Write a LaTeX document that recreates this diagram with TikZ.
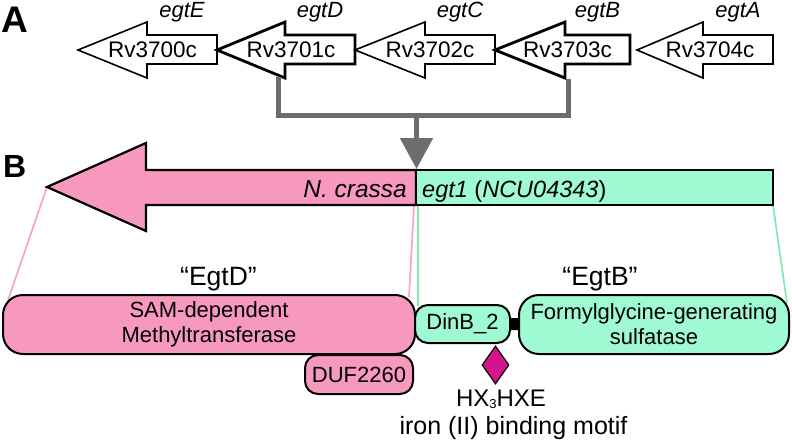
\documentclass[tikz,border=0pt]{standalone}
\usepackage{fontspec}
\setmainfont{Liberation Sans}
\usepackage{tikz}
\usetikzlibrary{shapes,shapes.geometric,arrows.meta,positioning}

\begin{document}
\begin{tikzpicture}[x=1pt, y=-1pt,
    every node/.style={inner sep=0pt},
    genename/.style={anchor=base, font=\fontsize{22.5}{26}\selectfont},
    genelabel/.style={anchor=base, font=\fontsize{22}{26}\selectfont\itshape},
    bracket/.style={draw=linkgray, line width=5pt},
    protbox/.style={draw, line width=2pt, rounded corners=#1, align=center,
                    font=\fontsize{22}{25}\selectfont},
    thinpink/.style={draw=linkpink, line width=1.7pt},
    thingreen/.style={draw=linkgreen, line width=1.7pt}]
    \definecolor{egtpink}{HTML}{F799BE}
    \definecolor{egtgreen}{HTML}{9FFAD3}
    \definecolor{linkpink}{HTML}{F4A6C4}
    \definecolor{linkgreen}{HTML}{7EEBB0}
    \definecolor{linkgray}{HTML}{6D6D6D}
    \definecolor{motifred}{HTML}{D3148A}

    \useasboundingbox (0,0) rectangle (792,444);

    % Panel letters
    \node[anchor=base west, font=\fontsize{37}{40}\selectfont\bfseries] (panelA) at (1,33) {A};
    \node[anchor=base west, font=\fontsize{32}{36}\selectfont\bfseries] (panelB) at (3,177) {B};

    % M. tuberculosis gene cluster
    % (tip / head base / tail / name / gene / outline)
    \foreach \tip/\base/\tail/\name/\gene/\lw in {
        78/147/217/Rv3700c/egtE/1.6,
        217/285/355/Rv3701c/egtD/2.8,
        355/425/495/Rv3702c/egtC/1.6,
        495/565/630/Rv3703c/egtB/2.8,
        637/703/773/Rv3704c/egtA/1.6} {
      \draw[fill=white, line width=\lw pt, line join=miter]
           (\tip,50) -- (\base,22) -- (\base,35) -- (\tail,35) --
           (\tail,64) -- (\base,64) -- (\base,78) -- cycle;
      \node[genename] (\name) at ({(\tip+\tail)/2+5},58) {\name};
      \node[genelabel] (\gene) at ({(\base+\tail)/2},18) {\gene};
    }

    % fusion bracket
    \coordinate (dfoot) at (278,77);
    \coordinate (bfoot) at (568,79);
    \coordinate (fork) at (416.5,115);
    \coordinate (forktip) at (416.5,169);
    \draw[bracket] (dfoot) |- (fork) -| (bfoot);
    \draw[bracket, -{Triangle[width=32pt, length=31pt]}] (fork) -- (forktip);

    % thin links from the gene to the domains
    \coordinate (bartip) at (47,187);
    \coordinate (barsplitL) at (414,205);
    \coordinate (barsplitR) at (418,205);
    \coordinate (barend) at (773,205);
    \coordinate (samL) at (8,300);
    \coordinate (samR) at (409,297);
    \coordinate (dinbL) at (418,306);
    \coordinate (fgsR) at (787,303);
    \draw[thinpink] (bartip) -- (samL);
    \draw[thinpink] (barsplitL) -- (samR);
    \draw[thingreen] (barsplitR) -- (dinbL);
    \draw[thingreen] (barend) -- (fgsR);

    % N. crassa egt1
    \draw[fill=egtpink, line width=2.2pt, line join=miter]
         (47,187) -- (146,143) -- (146,170) -- (416,170) --
         (416,205) -- (146,205) -- (146,231) -- cycle;
    \draw[fill=egtgreen, line width=2.2pt] (416,170) rectangle (773,205);
    \node[anchor=base east, font=\fontsize{24.5}{28}\selectfont\itshape] (ncrassa) at (407,197) {N. crassa};
    \node[anchor=base west, font=\fontsize{23.5}{28}\selectfont] (egt1) at (422,197)
         {\textit{egt1} (\textit{NCU04343})};

    % Domains
    \node[protbox=20pt, fill=egtpink, minimum width=412pt, minimum height=59pt]
         (sam) at (209,324.5) {SAM-dependent\\Methyltransferase};
    \node[protbox=13pt, fill=egtpink, minimum width=108pt, minimum height=39pt]
         (duf) at (359,374.5) {DUF2260};
    \node[protbox=13pt, fill=egtgreen, minimum width=95pt, minimum height=38pt]
         (dinb) at (462.5,324) {DinB\_2};
    \node[protbox=20pt, fill=egtgreen, minimum width=270pt, minimum height=59pt]
         (fgs) at (654,324.5) {Formylglycine-generating\\sulfatase};
    \draw[line width=12pt] (dinb) -- (fgs);

    \node[anchor=base, font=\fontsize{26.5}{30}\selectfont] (egtDname) at (218.5,285) {“EgtD”};
    \node[anchor=base, font=\fontsize{26.5}{30}\selectfont] (egtBname) at (600,285) {“EgtB”};

    % iron binding motif
    \node[diamond, draw, fill=motifred, line width=1.2pt, aspect=0.7,
          minimum width=27pt, minimum height=38pt] (motif) at (495.5,365) {};
    \node[anchor=base, font=\fontsize{24}{28}\selectfont] (motifseq) at (501,406)
         {HX{\fontsize{13}{14}\selectfont\raisebox{-2pt}{3}}HXE};
    \node[anchor=base, font=\fontsize{25}{28}\selectfont] (motifname) at (513.5,434) {iron (II) binding motif};
\end{tikzpicture}
\end{document}
